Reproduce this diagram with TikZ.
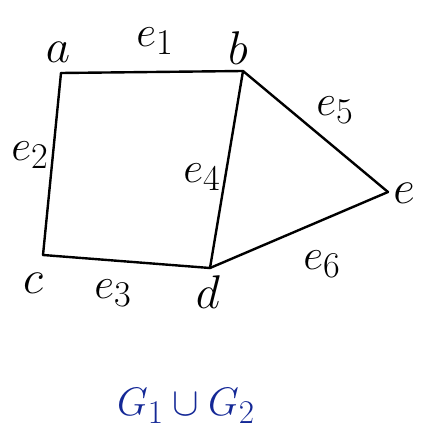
\documentclass[tikz,border=0pt]{standalone}
\usepackage{graphicx}
\usetikzlibrary{positioning}
\definecolor{penblue}{RGB}{20,40,150}
\newcommand{\vtx}[1]{\scalebox{1.9}{\Huge$#1$}}
\newcommand{\edg}[1]{\scalebox{1.75}{\Huge$#1$}}
\tikzset{
  edgeline/.style={line width=2.4pt, line cap=round, line join=round},
  vlabel/.style={inner sep=0pt},
}
\begin{document}
\begin{tikzpicture}[x=1pt,y=-1pt]
\useasboundingbox (0,0) rectangle (422,438);
% vertices
\coordinate (a) at (61,73);
\coordinate (b) at (243,71);
\coordinate (c) at (43,255);
\coordinate (d) at (210,268);
\coordinate (e) at (388,192);
% edges
\draw[edgeline] (a) -- (b);
\draw[edgeline] (a) -- (c);
\draw[edgeline] (c) -- (d);
\draw[edgeline] (b) -- (d);
\draw[edgeline] (b) -- (e);
\draw[edgeline] (d) -- (e);
% vertex labels
\node[vlabel] (la) at (58,52) {\vtx{a}};
\node[vlabel] (lb) at (238,48) {\vtx{b}};
\node[vlabel] (lc) at (33,283) {\vtx{c}};
\node[vlabel] (ld) at (208,292) {\vtx{d}};
\node[vlabel] (le) at (404,193) {\vtx{e}};
% edge labels
\node[vlabel] (le1) at (155,41) {\edg{e_1}};
\node[vlabel] (le2) at (30,155) {\edg{e_2}};
\node[vlabel] (le3) at (113,293) {\edg{e_3}};
\node[vlabel] (le4) at (202,177) {\edg{e_4}};
\node[vlabel] (le5) at (335,110) {\edg{e_5}};
\node[vlabel] (le6) at (322,264) {\edg{e_6}};
% caption
\node[vlabel, text=penblue] (title) at (186,406) {\scalebox{1.6}{\Huge$G_1\cup G_2$}};
\end{tikzpicture}
\end{document}
